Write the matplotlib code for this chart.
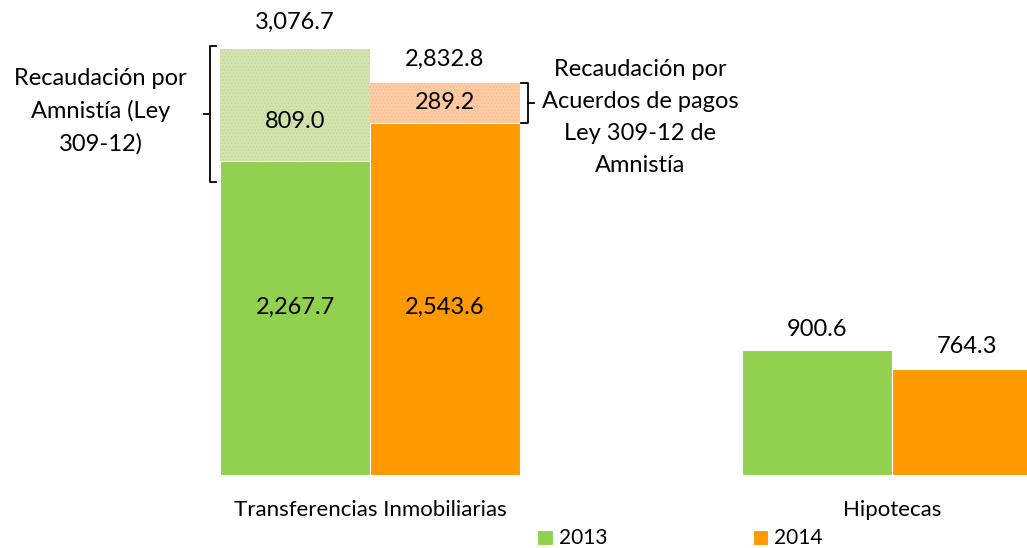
import matplotlib.pyplot as plt
import numpy as np

plt.rcParams['font.family'] = ['Lato', 'DejaVu Sans']

categories = ['Transferencias Inmobiliarias', 'Hipotecas']
years = ['2013', '2014']
base_2013 = [2267.7, 900.6]
base_2014 = [2543.6, 764.3]
# amnesty part stacked on top of the Transferencias bars only
amnistia_2013 = [809.0, 0.0]
amnistia_2014 = [289.2, 0.0]

green = '#92D050'
orange = '#FF9900'
green_light = '#D2E3AE'
orange_light = '#FDCBA4'

fig = plt.figure(figsize=(10.27, 5.48), dpi=100)
ax = fig.add_axes([0, 0.1332, 1, 0.8668])

x = np.arange(len(categories))
w = 0.287

b1 = ax.bar(x - w / 2, base_2013, w, color=green, edgecolor='white', linewidth=0.8, label=years[0])
b2 = ax.bar(x + w / 2, base_2014, w, color=orange, edgecolor='white', linewidth=0.8, label=years[1])

# hatched amnesty segments (Transferencias only)
plt.rcParams['hatch.linewidth'] = 0.4
ax.bar(x[0] - w / 2, amnistia_2013[0], w, bottom=base_2013[0], color=green_light,
       edgecolor='#B9D38A', hatch='.....', linewidth=0)
ax.bar(x[0] + w / 2, amnistia_2014[0], w, bottom=base_2014[0], color=orange_light,
       edgecolor='#F7B486', hatch='.....', linewidth=0)

fs = 17
# labels inside the base segments of Transferencias
ax.text(x[0] - w / 2, base_2013[0] / 2 + 80, f'{base_2013[0]:,.1f}', ha='center', va='center', fontsize=fs)
ax.text(x[0] + w / 2, base_2014[0] / 2 - 60, f'{base_2014[0]:,.1f}', ha='center', va='center', fontsize=fs)
# labels inside hatched segments
ax.text(x[0] - w / 2, base_2013[0] + amnistia_2013[0] * 0.35, f'{amnistia_2013[0]:,.1f}',
        ha='center', va='center', fontsize=fs)
ax.text(x[0] + w / 2, base_2014[0] + amnistia_2014[0] / 2, f'{amnistia_2014[0]:,.1f}',
        ha='center', va='center', fontsize=fs)
# totals above Transferencias
tot13 = base_2013[0] + amnistia_2013[0]
tot14 = base_2014[0] + amnistia_2014[0]
ax.annotate(f'{tot13:,.1f}', (x[0] - w / 2, tot13), xytext=(0, 19), textcoords='offset points',
            ha='center', va='center', fontsize=fs)
ax.annotate(f'{tot14:,.1f}', (x[0] + w / 2, tot14), xytext=(0, 17), textcoords='offset points',
            ha='center', va='center', fontsize=fs)
# labels above Hipotecas
ax.annotate(f'{base_2013[1]:,.1f}', (x[1] - w / 2, base_2013[1]), xytext=(0, 15), textcoords='offset points',
            ha='center', va='center', fontsize=fs)
ax.annotate(f'{base_2014[1]:,.1f}', (x[1] + w / 2, base_2014[1]), xytext=(0, 16), textcoords='offset points',
            ha='center', va='center', fontsize=fs)

# brackets
def bracket(xb, y0, y1, side):
    d = 0.012 * side
    ax.plot([xb + d, xb, xb, xb + d], [y0, y0, y1, y1], color='black', lw=1.3, clip_on=False)
    ym = (y0 + y1) / 2
    ax.plot([xb, xb - d], [ym, ym], color='black', lw=1.3, clip_on=False)

bracket(x[0] - w - 0.02, base_2013[0] - 150, tot13 + 20, 1)
bracket(x[0] + w + 0.015, base_2014[0], tot14, -1)

ax.text(0.098, 0.766, 'Recaudación por\nAmnistía (Ley\n309-12)', transform=ax.transAxes,
        ha='center', va='center', fontsize=fs, linespacing=1.62)
ax.text(0.623, 0.7526, 'Recaudación por\nAcuerdos de pagos\nLey 309-12 de\nAmnistía', transform=ax.transAxes,
        ha='center', va='center', fontsize=fs, linespacing=1.66)

ax.set_xlim(-0.709, 1.259)
ax.set_ylim(0, 3430)
ax.set_xticks(x)
ax.set_xticklabels(categories, fontsize=16)
ax.tick_params(axis='x', length=0, pad=18)
ax.set_yticks([])
for s in ax.spines.values():
    s.set_visible(False)

fig.legend(handles=[b1, b2], labels=years, loc='lower left', bbox_to_anchor=(0.505, -0.035),
           ncol=2, frameon=False, fontsize=15, handlelength=0.75, handleheight=0.75,
           handletextpad=0.3, columnspacing=6.95)

fig.savefig('out.png', dpi=100)
